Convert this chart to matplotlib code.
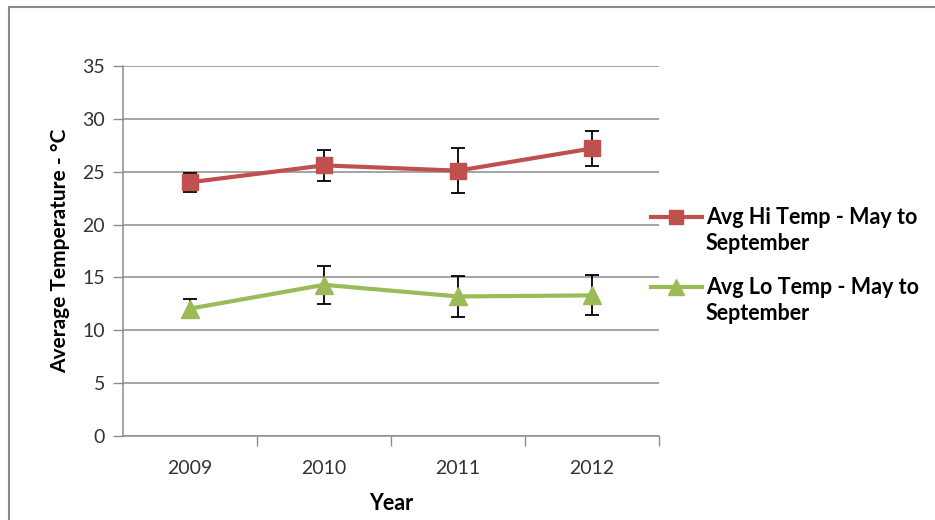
import matplotlib
matplotlib.use("Agg")
import matplotlib.pyplot as plt
from matplotlib.lines import Line2D

# Data: average May-September temperatures with error ranges
years = ["2009", "2010", "2011", "2012"]
hi_temp = [24.0, 25.6, 25.1, 27.2]
hi_err = [0.9, 1.45, 2.15, 1.65]
lo_temp = [12.05, 14.3, 13.2, 13.3]
lo_err = [0.9, 1.8, 1.95, 1.9]
hi_label = "Avg Hi Temp - May to\nSeptember"
lo_label = "Avg Lo Temp - May to\nSeptember"
y_ticks = [0, 5, 10, 15, 20, 25, 30, 35]

RED = "#C0504D"
GREEN = "#9BBB59"
GRID = "#8C8C8C"
FONT = "Lato"

W, H = 935, 520
fig = plt.figure(figsize=(W / 100, H / 100), dpi=100)
fig.patch.set_facecolor("white")

ax = fig.add_axes([123 / W, 1 - 436 / H, (659 - 123) / W, (436 - 66) / H])

x = list(range(len(years)))

# error bars beneath the series lines
for vals, errs in ((hi_temp, hi_err), (lo_temp, lo_err)):
    ax.errorbar(x, vals, yerr=errs, fmt="none", ecolor="black",
                elinewidth=1.3, capsize=4.8, capthick=1.3, zorder=2)

series = [
    (hi_temp, RED, "s", 12, hi_label),
    (lo_temp, GREEN, "^", 13, lo_label),
]
for vals, col, mk, ms, _ in series:
    ax.plot(x, vals, color=col, lw=3, marker=mk, markersize=ms,
            markerfacecolor=col, markeredgecolor=col, zorder=3)

ax.set_xlim(-0.5, len(years) - 0.5)
ax.set_ylim(0, 35)
ax.set_yticks(y_ticks)
ax.set_xticks(x)
ax.set_xticklabels(years)
ax.set_xticks([i + 0.5 for i in x], minor=True)

ax.yaxis.grid(True, color=GRID, lw=1.1)
ax.set_axisbelow(True)

for side in ("top", "right"):
    ax.spines[side].set_visible(False)
for side in ("left", "bottom"):
    ax.spines[side].set_color(GRID)
    ax.spines[side].set_linewidth(1.1)

ax.tick_params(axis="y", direction="out", length=7, width=1, color=GRID,
               labelsize=14, labelcolor="#333333", pad=6)
ax.tick_params(axis="x", which="major", length=0, labelsize=14,
               labelcolor="#333333", pad=17)
ax.tick_params(axis="x", which="minor", direction="out", length=7, width=1,
               color=GRID)
for lab in ax.get_xticklabels() + ax.get_yticklabels():
    lab.set_fontfamily(FONT)

ax.set_ylabel("Average Temperature - °C", fontsize=15, fontweight="bold",
              family=FONT, labelpad=9)
ax.set_xlabel("Year", fontsize=15.5, fontweight="bold", family=FONT,
              labelpad=12)

# legend entries: handle aligned with the first line of each label
def fx(px):
    return px / W

def fy(py):
    return 1 - py / H

for (vals, col, mk, ms, label), top in zip(series, (217, 287)):
    fig.add_artist(Line2D([fx(651), fx(702)], [fy(top), fy(top)], color=col,
                          lw=3, transform=fig.transFigure))
    fig.add_artist(Line2D([fx(676)], [fy(top)], color=col, marker=mk,
                          markersize=ms - 1.5, markerfacecolor=col,
                          markeredgecolor=col, lw=0,
                          transform=fig.transFigure))
    for i, line in enumerate(label.split("\n")):
        fig.text(fx(706), fy(top + 26 * i), line, family=FONT,
                 fontweight="bold", fontsize=15.5, va="center", ha="left",
                 color="black")

# outer chart-area border (top and left edges)
fig.add_artist(Line2D([9 / W, 1], [1 - 7 / H, 1 - 7 / H], color="#8A8A8A",
                      lw=1.5, transform=fig.transFigure))
fig.add_artist(Line2D([9 / W, 9 / W], [0, 1 - 7 / H], color="#8A8A8A",
                      lw=1.5, transform=fig.transFigure))

fig.savefig("out.png", dpi=100, facecolor="white")
